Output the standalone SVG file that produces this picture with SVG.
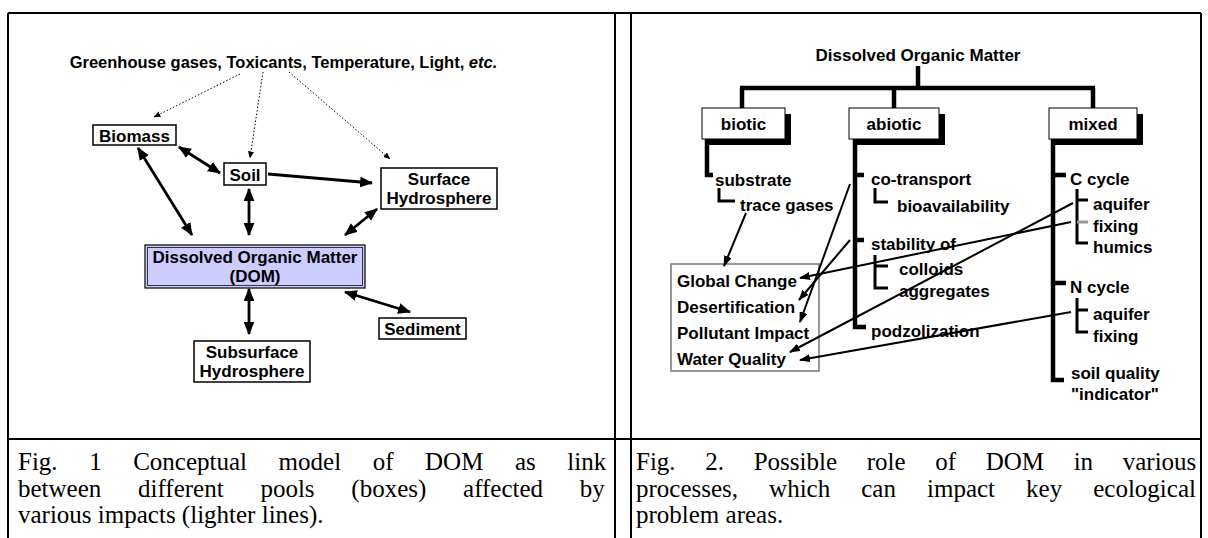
<svg xmlns="http://www.w3.org/2000/svg" width="1208" height="538" viewBox="0 0 1208 538">
<style>
.lbl{font-family:"Liberation Sans",Arial,sans-serif;font-weight:bold;font-size:17px;fill:#000}
.mid{text-anchor:middle}
.cap{font-family:"Liberation Serif","Times New Roman",serif;font-size:25px;fill:#000}
.frame{stroke:#000;stroke-width:2;fill:none}
.box{fill:#fff;stroke:#000;stroke-width:1.5}
.cat{fill:#fff;stroke:#000;stroke-width:1}
.bold{stroke:#000;stroke-width:2.8;fill:none;marker-end:url(#ah)}
.dbl{marker-start:url(#ah)}
.dot{stroke:#000;stroke-width:1;stroke-dasharray:1.5 2;fill:none;marker-end:url(#ahs)}
.tree{stroke:#000;stroke-width:4.5;fill:none}
.brk{stroke:#000;stroke-width:3;fill:none}
.arr{stroke:#000;stroke-width:2;fill:none;marker-end:url(#ahr)}
</style>
<defs>
<marker id="ah" viewBox="0 0 12 10" refX="11" refY="5" markerWidth="13" markerHeight="11" markerUnits="userSpaceOnUse" orient="auto-start-reverse"><path d="M0,0 L12,5 L0,10 Z"/></marker>
<marker id="ahs" viewBox="0 0 7 6" refX="6.5" refY="3" markerWidth="7" markerHeight="6" markerUnits="userSpaceOnUse" orient="auto"><path d="M0,0 L7,3 L0,6 Z"/></marker>
<marker id="ahr" viewBox="0 0 11 8" refX="10" refY="4" markerWidth="11" markerHeight="8" markerUnits="userSpaceOnUse" orient="auto"><path d="M0,0 L11,4 L0,8 Z"/></marker>
</defs>
<rect width="1208" height="538" fill="#fff"/>

<!-- table frame -->
<g id="frame" class="frame">
<path d="M8,13 H1201 M8,439 H1201 M8,13 V538 M615,13 V538 M631,13 V538 M1201,13 V538"/>
</g>

<!-- left panel: pools -->
<text id="impacts" class="lbl mid" style="font-size:16.5px" x="283.5" y="68">Greenhouse gases, Toxicants, Temperature, Light, <tspan font-style="italic">etc.</tspan></text>
<g id="biomass"><rect class="box" x="93" y="125" width="83" height="20"/><text class="lbl mid" x="134.5" y="141.5">Biomass</text></g>
<g id="soil"><rect class="box" x="224" y="163" width="42" height="22"/><text class="lbl mid" x="245" y="180.5">Soil</text></g>
<g id="surface"><rect class="box" x="381" y="168" width="116" height="41"/><text class="lbl mid" x="439" y="184.5">Surface<tspan x="439" y="204">Hydrosphere</tspan></text></g>
<g id="dom"><rect x="145" y="245" width="220" height="43" fill="#ccccff" stroke="#000" stroke-width="1.2"/><rect x="147.5" y="247.5" width="215" height="38" fill="none" stroke="#333" stroke-width="1"/><text class="lbl mid" x="255" y="263">Dissolved Organic Matter<tspan x="255" y="282">(DOM)</tspan></text></g>
<g id="sediment"><rect class="box" x="379" y="318" width="87" height="21"/><text class="lbl mid" x="422.5" y="334.5">Sediment</text></g>
<g id="subsurface"><rect class="box" x="194" y="341" width="116" height="41"/><text class="lbl mid" x="252" y="357.5">Subsurface<tspan x="252" y="377">Hydrosphere</tspan></text></g>

<g id="left-connectors">
<path class="dot" d="M240,74 L154,117"/>
<path class="dot" d="M263,72 L250,158"/>
<path class="dot" d="M289,72 L390,159"/>
<path class="bold dbl" d="M179,147 L220,173"/>
<path class="bold dbl" d="M138,148 L192,235"/>
<path class="bold dbl" d="M249,189 L249,235"/>
<path class="bold" d="M268,174 L372,183"/>
<path class="bold dbl" d="M377,209 L345,235"/>
<path class="bold dbl" d="M249,289 L249,334"/>
<path class="bold dbl" d="M345,292 L410,312"/>
</g>

<!-- right panel: roles of DOM -->
<text id="dom-root" class="lbl mid" x="918" y="61">Dissolved Organic Matter</text>
<g id="biotic"><rect x="708" y="114" width="83" height="31" fill="#000"/><rect class="cat" x="702" y="108" width="83" height="31"/><text class="lbl mid" x="743.5" y="129.5">biotic</text></g>
<g id="abiotic"><rect x="855" y="114" width="90" height="31" fill="#000"/><rect class="cat" x="849" y="108" width="90" height="31"/><text class="lbl mid" x="894" y="129.5">abiotic</text></g>
<g id="mixed"><rect x="1055" y="114" width="88" height="31" fill="#000"/><rect class="cat" x="1049" y="108" width="88" height="31"/><text class="lbl mid" x="1093" y="129.5">mixed</text></g>

<g id="problem-areas"><rect x="671" y="264" width="148" height="107" fill="#fff" stroke="#777" stroke-width="1.5"/>
<text class="lbl" x="677" y="287">Global Change</text>
<text class="lbl" x="677" y="313">Desertification</text>
<text class="lbl" x="677" y="339">Pollutant Impact</text>
<text class="lbl" x="677" y="365">Water Quality</text></g>

<g id="tree">
<path class="tree" d="M918,66 V88 M740,88 H1095 M742,88 V108 M894,88 V108 M1093,88 V108"/>
<path class="tree" d="M707,139 V175 H713"/>
<path class="tree" d="M855,139 V327 H866 M855,175 H864 M855,240 H864"/>
<path class="tree" d="M1053,139 V380 H1064 M1053,175 H1066 M1053,283 H1066"/>
<path class="brk" d="M719,188 V201 H735"/>
<path class="brk" d="M875,188 V202 H888"/>
<path class="brk" d="M875,255 V288 H888 M875,266 H888"/>
<path class="brk" d="M1077,189 V243 H1088 M1077,200 H1088"/>
<path d="M1077,222 H1088" stroke="#999" stroke-width="3"/>
<path class="brk" d="M1077,298 V332 H1088 M1077,310 H1088"/>
</g>

<g id="processes">
<text class="lbl" x="715" y="186">substrate</text>
<text class="lbl" x="740" y="211">trace gases</text>
<text class="lbl" x="871" y="185">co-transport</text>
<text class="lbl" x="897" y="212">bioavailability</text>
<text class="lbl" x="871" y="250">stability of</text>
<text class="lbl" x="899" y="275">colloids</text>
<text class="lbl" x="899" y="297">aggregates</text>
<text class="lbl" x="871" y="337">podzolization</text>
<text class="lbl" x="1070" y="185">C cycle</text>
<text class="lbl" x="1093" y="210">aquifer</text>
<text class="lbl" x="1093" y="232">fixing</text>
<text class="lbl" x="1093" y="253">humics</text>
<text class="lbl" x="1070" y="293">N cycle</text>
<text class="lbl" x="1093" y="320">aquifer</text>
<text class="lbl" x="1093" y="342">fixing</text>
<text class="lbl" x="1071" y="379">soil quality</text>
<text class="lbl" x="1071" y="400">"indicator"</text>
</g>

<g id="right-connectors">
<path class="arr" d="M746,213 L724,266"/>
<path class="arr" d="M850,184 L800,322"/>
<path class="arr" d="M850,240 L799,300"/>
<path class="arr" d="M1071,222 L800,278"/>
<path class="arr" d="M1073,203 L790,352"/>
<path class="arr" d="M1071,312 L800,360"/>
</g>

<!-- captions -->
<g id="caption-1" class="cap">
<text x="18" y="470" word-spacing="25.3">Fig. 1 Conceptual model of DOM as link</text>
<text x="18" y="496.5" word-spacing="30.5">between different pools (boxes) affected by</text>
<text x="18" y="523">various impacts (lighter lines).</text>
</g>
<g id="caption-2" class="cap">
<text x="636" y="470" word-spacing="23.4">Fig. 2. Possible role of DOM in various</text>
<text x="636" y="496.5" word-spacing="24.8">processes, which can impact key ecological</text>
<text x="636" y="523">problem areas.</text>
</g>
</svg>
